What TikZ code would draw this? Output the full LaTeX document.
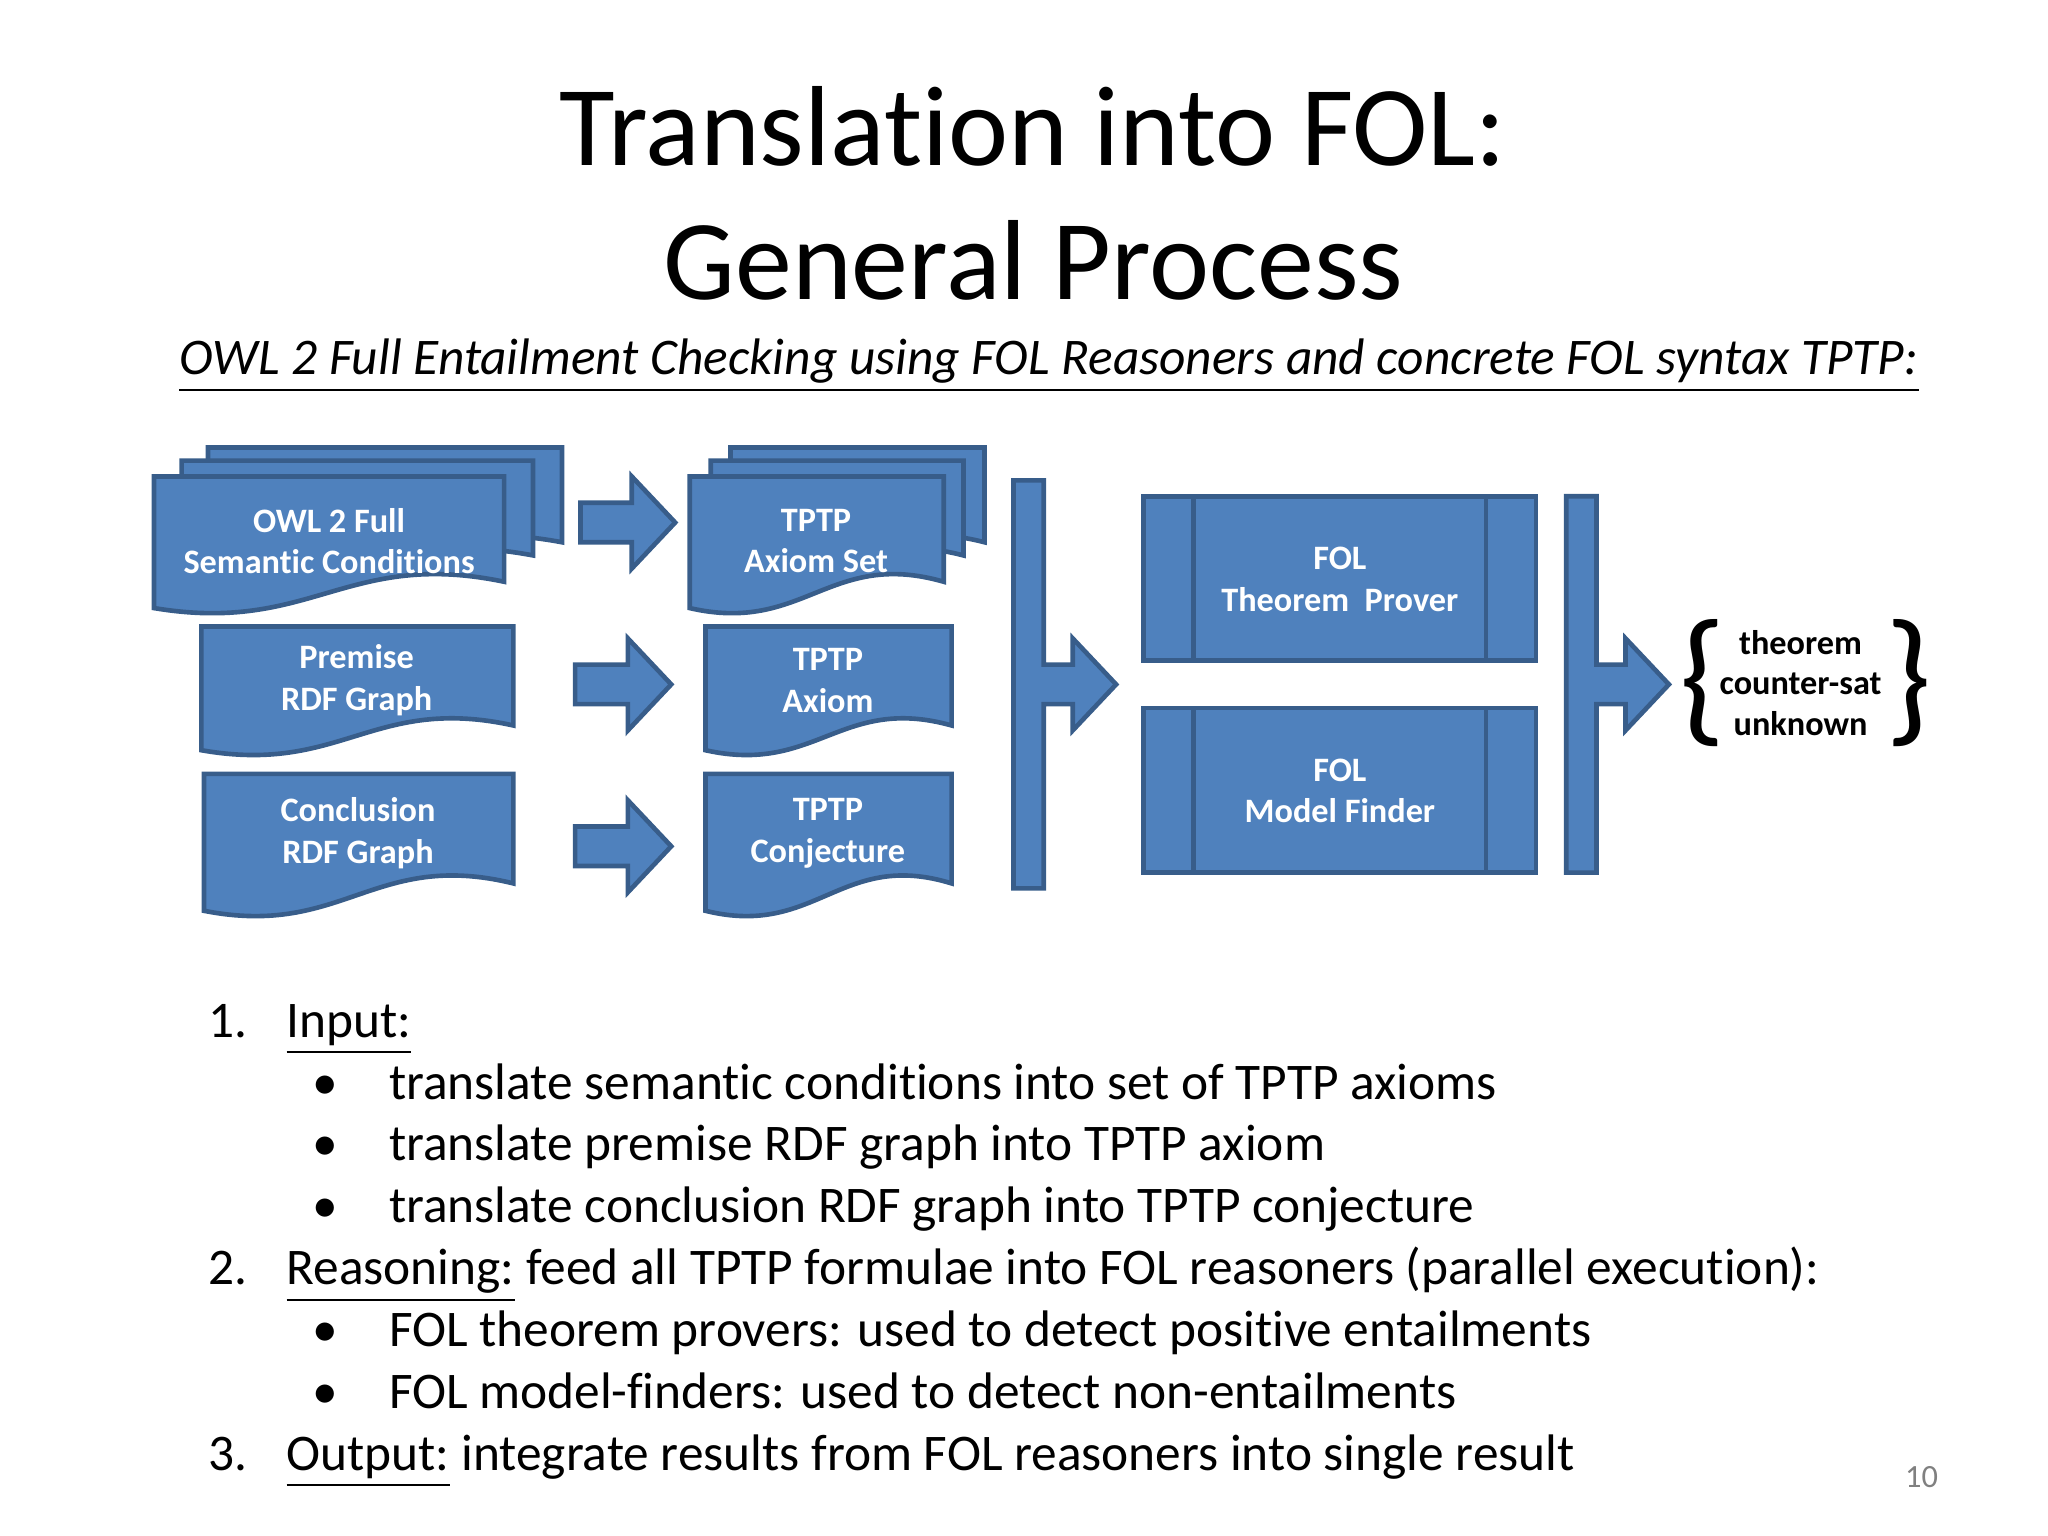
\documentclass[tikz,border=0pt]{standalone}
\usepackage{fontspec}
\setmainfont{Carlito}[Ligatures={NoCommon}]
\usepackage{tikz}
\definecolor{boxblue}{RGB}{79,129,189}
\definecolor{boxedge}{RGB}{56,93,138}
\tikzset{
  blk/.style={fill=boxblue, draw=boxedge, line width=1pt, line join=miter},
  lbl/.style={text=white, font=\fontsize{7.4}{9}\selectfont\bfseries, align=center},
  item/.style={anchor=base west, inner sep=0pt, font=\fontsize{11.1}{13}\selectfont}
}
% document with wavy bottom, px coordinates
\newcommand{\docbox}[4]{%
  \pgfmathsetmacro{\dw}{#3-#1}%
  \pgfmathsetmacro{\dh}{#4-#2}%
  \draw[blk] (#1,#2) -- (#3,#2) -- (#3,#4-0.2*\dh)
    .. controls (#1+0.55*\dw,#4-0.45*\dh) and (#1+0.45*\dw,#4+0.2*\dh) .. (#1,#4) -- cycle;}
% block arrow
\newcommand{\blkarrow}[3]{%
  \draw[blk] (#1,#3-15) -- (#2-33,#3-15) -- (#2-33,#3-35) -- (#2,#3) -- (#2-33,#3+35)
    -- (#2-33,#3+15) -- (#1,#3+15) -- cycle;}
% bar with arrow
\newcommand{\bararrow}[3]{%
  \draw[blk] (#1,#2) -- (#1+23,#2) -- (#1+23,505) -- (#1+45,505) -- (#1+45,485) -- (#1+78,520)
    -- (#1+45,555) -- (#1+45,535) -- (#1+23,535) -- (#1+23,#3) -- (#1,#3) -- cycle;}
\newcommand{\procbox}[4]{%
  \draw[blk] (#1,#2) rectangle (#3,#4);
  \draw[boxedge, line width=1pt] (#1+38,#2) -- (#1+38,#4) (#3-38,#2) -- (#3-38,#4);}

\begin{document}
\begin{tikzpicture}[x=0.01cm,y=-0.01cm]
  \useasboundingbox (0,0) rectangle (1556,1167);

  \node (title) at (785,147) [font=\fontsize{24.6}{29}\selectfont, align=center]
    {Translation into FOL:\\General Process};
  \node (sub) at (797,278) [font=\fontsize{11.1}{13}\selectfont\itshape]
    {\underline{OWL 2 Full Entailment Checking using FOL Reasoners and concrete FOL syntax TPTP:}};

  % input documents
  \docbox{158}{340}{427}{430}
  \docbox{138}{350}{405}{440}
  \docbox{117}{362}{383}{462}
  \node[lbl] (owl) at (250,411) {OWL 2 Full\\Semantic Conditions};
  \docbox{153}{476}{390}{570}
  \node[lbl] (prem) at (271,517) {Premise\\RDF Graph};
  \docbox{155}{588}{390}{692}
  \node[lbl] (conc) at (272,633) {Conclusion\\RDF Graph};

  \blkarrow{441}{513}{397}
  \blkarrow{437}{510}{520}
  \blkarrow{437}{510}{643}

  % tptp documents
  \docbox{555}{340}{748}{430}
  \docbox{540}{350}{732}{440}
  \docbox{524}{362}{717}{462}
  \node[lbl] (axset) at (620,411) {TPTP\\Axiom Set};
  \docbox{536}{476}{723}{570}
  \node[lbl] (ax) at (629,517) {TPTP\\Axiom};
  \docbox{536}{588}{723}{692}
  \node[lbl] (conj) at (629,633) {TPTP\\Conjecture};

  \bararrow{770}{365}{675}
  \procbox{869}{377}{1167}{502}
  \node[lbl] (prover) at (1018,440) {FOL\\Theorem~~Prover};
  \procbox{869}{538}{1167}{663}
  \node[lbl] (finder) at (1018,601) {FOL\\Model Finder};
  \bararrow{1190}{377}{663}

  \node (res) at (1368,519) [font=\fontsize{7.4}{8.8}\selectfont\bfseries, align=center]
    {theorem\\counter-sat\\unknown};
  \node (lb) at (1294,519) [font=\fontsize{32}{32}\selectfont] {\{};
  \node (rb) at (1450,519) [font=\fontsize{32}{32}\selectfont] {\}};

  % list
  \node[item] (n1) at (158,788) {1.};
  \node[item] (h1) at (217,788) {\underline{Input:}};
  \node[item] (b1) at (237,835) {\textbullet};
  \node[item] (t1) at (295,835) {translate semantic conditions into set of TPTP axioms};
  \node[item] (b2) at (237,882) {\textbullet};
  \node[item] (t2) at (295,882) {translate premise RDF graph into TPTP axiom};
  \node[item] (b3) at (237,929) {\textbullet};
  \node[item] (t3) at (295,929) {translate conclusion RDF graph into TPTP conjecture};
  \node[item] (n2) at (158,976) {2.};
  \node[item] (h2) at (217,976) {\underline{Reasoning:} feed all TPTP formulae into FOL reasoners (parallel execution):};
  \node[item] (b4) at (237,1023) {\textbullet};
  \node[item] (t4) at (295,1023) {FOL theorem provers: used to detect positive entailments};
  \node[item] (b5) at (237,1070) {\textbullet};
  \node[item] (t5) at (295,1070) {FOL model-finders: used to detect non-entailments};
  \node[item] (n3) at (158,1117) {3.};
  \node[item] (h3) at (217,1117) {\underline{Output:} integrate results from FOL reasoners into single result};
  \node (page) at (1460,1122) [text=gray, font=\fontsize{7}{8}\selectfont] {10};
\end{tikzpicture}
\end{document}
